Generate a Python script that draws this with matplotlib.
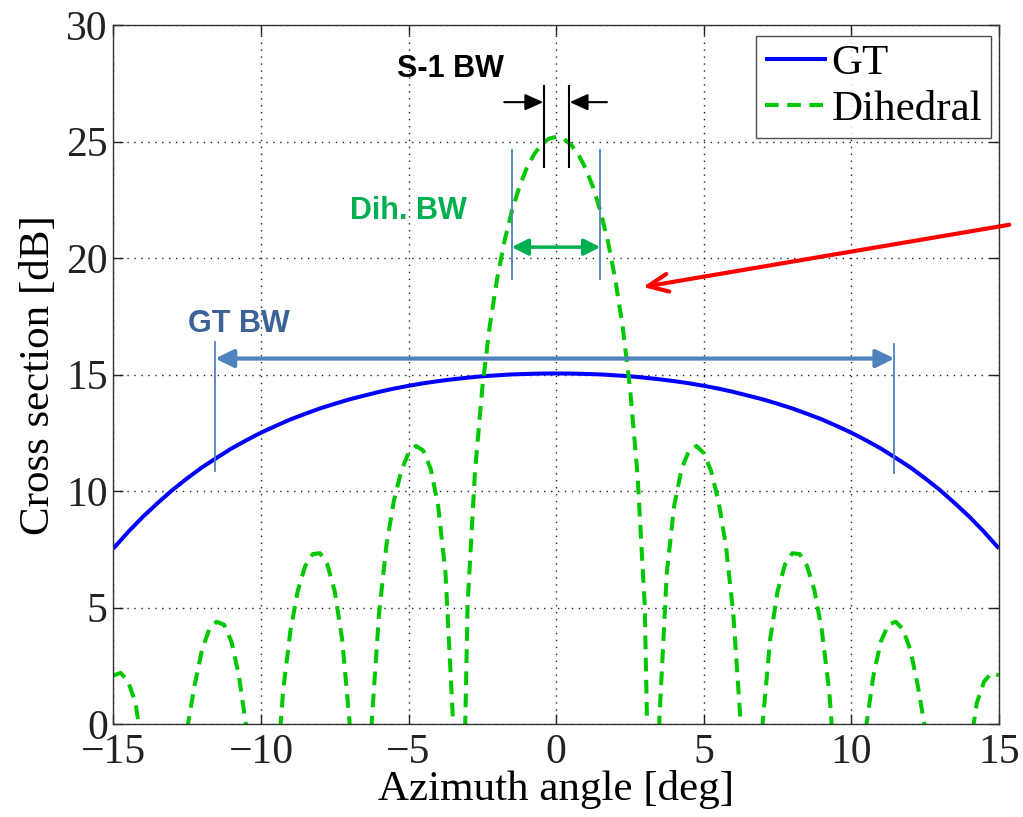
import matplotlib
matplotlib.use("Agg")
import matplotlib.pyplot as plt
import numpy as np

# ---------------- data ----------------
gt_angle = [-15, -14.5, -14, -13.5, -13, -12.5, -12, -11.5, -11, -10.5, -10, -9.5, -9, -8.5, -8,
            -7.5, -7, -6.5, -6, -5.5, -5, -4.5, -4, -3.5, -3, -2.5, -2, -1.5, -1, -0.5, 0,
            0.5, 1, 1.5, 2, 2.5, 3, 3.5, 4, 4.5, 5, 5.5, 6, 6.5, 7, 7.5, 8,
            8.5, 9, 9.5, 10, 10.5, 11, 11.5, 12, 12.5, 13, 13.5, 14, 14.5, 15]
gt_db = [7.54, 8.25, 8.90, 9.49, 10.05, 10.55, 11.02, 11.43, 11.83, 12.18, 12.51, 12.80, 13.08, 13.32, 13.55,
         13.75, 13.94, 14.10, 14.26, 14.40, 14.52, 14.63, 14.72, 14.80, 14.87, 14.93, 14.97, 15.01, 15.03, 15.045, 15.05,
         15.045, 15.03, 15.01, 14.97, 14.93, 14.87, 14.80, 14.72, 14.63, 14.52, 14.40, 14.26, 14.10, 13.94, 13.75, 13.55,
         13.32, 13.08, 12.80, 12.51, 12.18, 11.83, 11.43, 11.02, 10.55, 10.05, 9.49, 8.90, 8.25, 7.54]

dih_angle = [-15, -14.75, -14.5, -14.25, -14, -13.75, -13.5, -13.25, -13, -12.75, -12.5, -12.25,
             -12, -11.75, -11.5, -11.25, -11, -10.75, -10.5, -10.25, -10, -9.75, -9.5, -9.25,
             -9, -8.75, -8.5, -8.25, -8, -7.75, -7.5, -7.25, -7, -6.75, -6.5, -6.25,
             -6, -5.75, -5.5, -5.25, -5, -4.75, -4.5, -4.25, -4, -3.75, -3.5, -3.25,
             -3, -2.75, -2.5, -2.25, -2, -1.75, -1.5, -1.25, -1, -0.75, -0.5, -0.25, 0,
             0.25, 0.5, 0.75, 1, 1.25, 1.5, 1.75, 2, 2.25, 2.5, 2.75, 3,
             3.25, 3.5, 3.75, 4, 4.25, 4.5, 4.75, 5, 5.25, 5.5, 5.75, 6,
             6.25, 6.5, 6.75, 7, 7.25, 7.5, 7.75, 8, 8.25, 8.5, 8.75, 9,
             9.25, 9.5, 9.75, 10, 10.25, 10.5, 10.75, 11, 11.25, 11.5, 11.75, 12,
             12.25, 12.5, 12.75, 13, 13.25, 13.5, 13.75, 14, 14.25, 14.5, 14.75, 15]
dih_db = [2.10, 2.20, 1.84, 0.92, -1.2, -3.2, -7.8, -20.0, -12.1, -4.5, -0.2, 1.66,
          3.18, 4.08, 4.40, 4.27, 3.55, 2.11, -0.10, -4.05, -13.7, -11.9, -2.85, 1.42,
          4.03, 5.74, 6.79, 7.30, 7.34, 6.85, 5.70, 3.65, 0.13, -7.9, -11.0, 0.05,
          4.75, 7.67, 9.57, 10.86, 11.64, 11.94, 11.74, 10.96, 9.39, 6.52, 0.30, -11.0,
          5.14, 10.82, 14.45, 17.08, 19.11, 20.73, 22.02, 23.04, 23.85, 24.45, 24.87, 25.12, 25.20,
          25.12, 24.87, 24.45, 23.85, 23.04, 22.02, 20.73, 19.11, 17.08, 14.45, 10.82, 5.14,
          -11.0, 0.30, 6.52, 9.39, 10.96, 11.74, 11.94, 11.64, 10.86, 9.57, 7.67, 4.75,
          0.05, -11.0, -7.9, 0.13, 3.65, 5.70, 6.85, 7.34, 7.30, 6.79, 5.74, 4.03,
          1.42, -2.85, -11.9, -13.7, -4.05, -0.10, 2.11, 3.55, 4.27, 4.40, 4.08, 3.18,
          1.66, -0.2, -4.5, -12.1, -20.0, -7.8, -3.2, -1.2, 0.92, 1.84, 2.20, 2.10]

x_ticks = [-15, -10, -5, 0, 5, 10, 15]
y_ticks = [0, 5, 10, 15, 20, 25, 30]
series_labels = ["GT", "Dihedral"]

# ---------------- figure ----------------
fig = plt.figure(figsize=(10.23, 8.17), dpi=100)
ax = fig.add_axes([0.1108, 0.1135, 0.8657, 0.8559])

serif = ["Liberation Serif", "DejaVu Serif"]
sans = ["Liberation Sans", "DejaVu Sans"]

ax.plot(gt_angle, gt_db, color="#0000ff", lw=2.9, label=series_labels[0], solid_capstyle="butt")
ax.plot(dih_angle, dih_db, color="#00c800", lw=2.9, dashes=(3.4, 2.1), label=series_labels[1])

ax.set_xlim(-15, 15)
ax.set_ylim(0, 30)
ax.set_xticks(x_ticks)
ax.set_yticks(y_ticks)
ax.set_xticklabels([("\u2212" + str(-t)) if t < 0 else str(t) for t in x_ticks], family=serif, fontsize=30)
ax.set_yticklabels([str(t) for t in y_ticks], family=serif, fontsize=30)
ax.tick_params(direction="in", length=7, width=1, top=True, right=True, pad=4, colors="#222222")
ax.tick_params(axis="x", pad=7)
for s in ax.spines.values():
    s.set_linewidth(1.0)
    s.set_color("#333333")

ax.grid(True, color="#222222", linestyle=(0, (1, 4)), linewidth=1.0)
ax.set_axisbelow(True)

ax.set_xlabel("Azimuth angle [deg]", family=serif, fontsize=31, labelpad=-2)
ax.set_ylabel("Cross section [dB]", family=serif, fontsize=31, labelpad=6)

leg = ax.legend(loc="upper right", bbox_to_anchor=(0.9906, 0.9847), borderaxespad=0,
                prop={"family": serif, "size": 31}, frameon=True, fancybox=False,
                handlelength=1.45, handletextpad=0.1, labelspacing=0.15, borderpad=0.2)
leg.get_frame().set_edgecolor("#222222")
leg.get_frame().set_linewidth(1.0)

# ---------------- annotations ----------------
# S-1 BW
ax.text(-3.57, 28.1, "S-1 BW", family=sans, fontweight="bold", fontsize=22, color="black",
        ha="center", va="center")
ax.plot([-0.40, -0.40], [23.9, 27.4], color="black", lw=1.5)
ax.plot([0.42, 0.42], [23.9, 27.4], color="black", lw=1.5)
ax.annotate("", xy=(-0.44, 26.69), xytext=(-1.76, 26.69),
            arrowprops=dict(arrowstyle="-|>,head_length=0.55,head_width=0.25", color="black",
                            lw=1.5, shrinkA=0, shrinkB=0, mutation_scale=20))
ax.annotate("", xy=(0.46, 26.69), xytext=(1.72, 26.69),
            arrowprops=dict(arrowstyle="-|>,head_length=0.55,head_width=0.25", color="black",
                            lw=1.5, shrinkA=0, shrinkB=0, mutation_scale=20))

# Dih. BW
ax.text(-5.02, 22.0, "Dih. BW", family=sans, fontweight="bold", fontsize=22, color="#00b050",
        ha="center", va="center")
ax.plot([-1.51, -1.51], [19.12, 24.62], color="#4f81bd", lw=1.3)
ax.plot([1.50, 1.50], [19.12, 24.62], color="#4f81bd", lw=1.3)
ax.annotate("", xy=(1.50, 20.47), xytext=(-1.51, 20.47),
            arrowprops=dict(arrowstyle="<|-|>,head_length=0.5,head_width=0.25", color="#00b050",
                            lw=2.5, shrinkA=0, shrinkB=0, mutation_scale=20))

# GT BW
ax.text(-10.74, 17.16, "GT BW", family=sans, fontweight="bold", fontsize=22, color="#3b6396",
        ha="center", va="center")
ax.plot([-11.55, -11.55], [10.87, 16.4], color="#4f81bd", lw=1.3)
ax.plot([11.46, 11.46], [10.76, 16.33], color="#4f81bd", lw=1.3)
ax.annotate("", xy=(11.46, 15.69), xytext=(-11.55, 15.69),
            arrowprops=dict(arrowstyle="<|-|>,head_length=0.55,head_width=0.27", color="#4f81bd",
                            lw=3.0, shrinkA=0, shrinkB=0, mutation_scale=20))

# red arrow
ax.annotate("", xy=(2.94, 18.76), xytext=(15.35, 21.43), annotation_clip=False,
            arrowprops=dict(arrowstyle="->,head_length=0.72,head_width=0.32", color="#ff0000",
                            lw=3.0, shrinkA=0, shrinkB=0, mutation_scale=20))

fig.savefig("out.png", dpi=100)
